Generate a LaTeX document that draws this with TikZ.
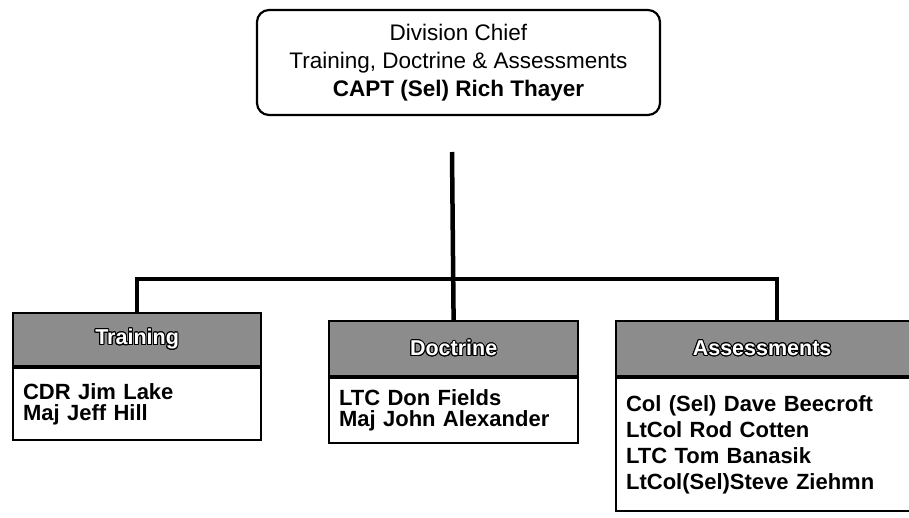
\documentclass[tikz,border=0pt]{standalone}
\usepackage{fontspec}
\setmainfont{Liberation Sans}
\usepackage{contour}
\contourlength{1pt}

\begin{document}
\begin{tikzpicture}[x=1pt,y=1pt]

\tikzset{chief/.style = {draw, rounded corners=12pt, line width=2.2pt, minimum width=403pt, minimum height=105pt, align=center, font=\fontsize{22.5}{28}\selectfont}}
\tikzset{head/.style = {draw, fill=black!45, line width=2.2pt, anchor=north west, inner sep=0pt, text=white, font=\bfseries\fontsize{21.5}{25}\selectfont}}
\tikzset{body/.style = {draw, line width=2.2pt, anchor=north west, align=left, inner xsep=10pt, inner ysep=0pt, font=\bfseries\fontsize{22}{21}\selectfont}}
\tikzset{link/.style = {line width=4.5pt}}

\useasboundingbox (0,0) rectangle (909,-517);

%chief
\node[chief] (chief) at (458.5,-62.5) {Division Chief\\Training, Doctrine \& Assessments\\\textbf{CAPT (Sel) Rich Thayer}};

%branches
\node[head, minimum width=248pt, minimum height=53pt] (trainhead) at (12,-312) {\contour{black}{Training}};
\node[body, text width=228pt, minimum height=72pt] (train) at (trainhead.south west) {CDR Jim Lake\\Maj Jeff Hill};

\node[head, minimum width=249pt, minimum height=55pt] (docthead) at (328,-320) {\contour{black}{Doctrine}};
\node[body, text width=229pt, minimum height=65pt] (doct) at (docthead.south west) {LTC Don Fields\\Maj John Alexander};

\node[head, minimum width=300pt, minimum height=55pt] (assesshead) at (615,-320) {\contour{black}{Assessments}\hspace*{8pt}};
\node[body, text width=280pt, minimum height=133pt, font=\bfseries\fontsize{22}{26}\selectfont] (assess) at (assesshead.south west) {Col (Sel) Dave Beecroft\\LtCol Rod Cotten\\LTC Tom Banasik\\LtCol(Sel)Steve Ziehmn};

%lines
\coordinate (stem) at (452,-152);
\coordinate (hub) at (452,-279);
\draw[link] (stem) -- (docthead.north);
\draw[link] (trainhead.north) -- (trainhead.north |- hub) -- ([xshift=162pt]assesshead.north west |- hub) -- ([xshift=162pt]assesshead.north west);

\end{tikzpicture}
\end{document}
